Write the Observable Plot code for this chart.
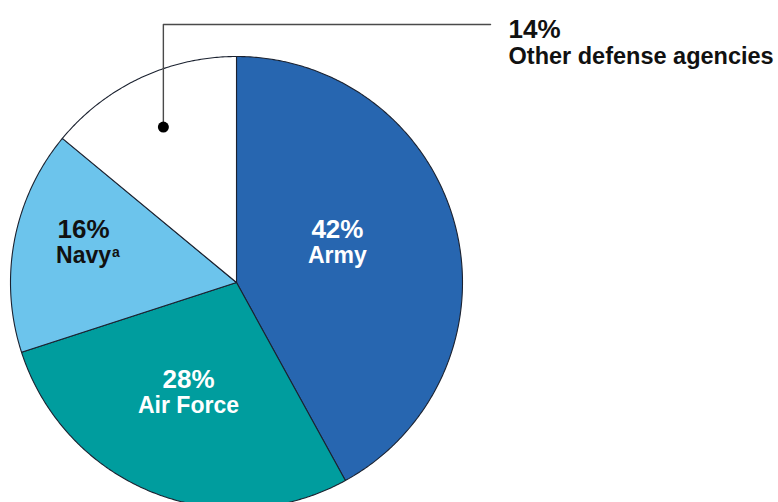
<!DOCTYPE html>
<html><head><meta charset="utf-8">
<script src="https://cdn.jsdelivr.net/npm/d3@7"></script>
<script src="https://cdn.jsdelivr.net/npm/@observablehq/plot@0.6"></script>
<style>html,body{margin:0;padding:0;background:#fff;overflow:hidden}</style>
</head><body><div id="chart"></div>
<script>
// ---- data ----
const categories = ["Army", "Air Force", "Navy", "Other defense agencies"];
const shares = [42, 28, 16, 14];
const pctLabels = ["42%", "28%", "16%", "14%"];
const nameLabels = ["Army", "Air Force", "Navy", "Other defense agencies"];
const footnoteMarks = ["", "", "a", ""];
const sliceColors = ["#2766B0", "#009D9E", "#6CC4EC", "#FFFFFF"];

// ---- layout config (not data) ----
const labelRadius = [0.461, 0.577, 0.689];   // fraction of radius for inside labels
const labelLift = [14, 11, 11];              // px lift for inside labels
const labelInk = ["#ffffff", "#ffffff", "#111111"];
const leaderRadius = 0.76;
const leaderTopY = 1.1416;
const leaderEndX = 1.124;
const R = 226; // px per data unit

// ---- build slices from the data ----
const total = d3.sum(shares);
let cum = 0;
const slices = categories.map((cat, i) => {
  const a0 = 2 * Math.PI * cum / total;
  cum += shares[i];
  const a1 = 2 * Math.PI * cum / total;
  return {cat, i, a0, a1, mid: (a0 + a1) / 2};
});
const polyPts = [];
for (const s of slices) {
  polyPts.push({cat: s.cat, x: 0, y: 0});
  const n = Math.max(2, Math.ceil((s.a1 - s.a0) / (Math.PI / 360)));
  for (let k = 0; k <= n; k++) {
    const a = s.a0 + (s.a1 - s.a0) * k / n;
    polyPts.push({cat: s.cat, x: Math.sin(a), y: Math.cos(a)});
  }
  polyPts.push({cat: s.cat, x: 0, y: 0});
}

const inside = slices.slice(0, 3).map(s => {
  const r = labelRadius[s.i];
  return {
    x: r * Math.sin(s.mid),
    y: r * Math.cos(s.mid) + labelLift[s.i] / R,
    pct: pctLabels[s.i], name: nameLabels[s.i], fn: footnoteMarks[s.i], ink: labelInk[s.i]
  };
});

const other = slices[3];
const dotPt = {x: leaderRadius * Math.sin(other.mid), y: leaderRadius * Math.cos(other.mid)};
const leader = [
  dotPt,
  {x: dotPt.x, y: leaderTopY},
  {x: leaderEndX, y: leaderTopY}
];
const outsideLabel = [{x: leaderEndX, y: leaderTopY, pct: pctLabels[3], name: nameLabels[3]}];

const font = "Liberation Sans, Arial, Helvetica, sans-serif";

const chart = Plot.plot({
  width: 778,
  height: 502,
  margin: 0,
  style: {fontFamily: font, background: "white"},
  x: {domain: [-1, 1], range: [10, 462], axis: null},
  y: {domain: [-1, 1], range: [508, 56], axis: null},
  color: {domain: categories, range: sliceColors},
  marks: [
    Plot.line(polyPts, {x: "x", y: "y", z: "cat", fill: "cat", stroke: "#1b2230", strokeWidth: 1.1, strokeLinejoin: "round"}),
    Plot.line(leader, {x: "x", y: "y", stroke: "#4a4a4a", strokeWidth: 1.4}),
    Plot.dot([dotPt], {x: "x", y: "y", r: 5.5, fill: "#000", stroke: "none"}),
    Plot.text(inside, {x: "x", y: "y", text: "pct", fill: d => d.ink, fontSize: 26, fontWeight: "bold", dy: -13}),
    Plot.text(inside, {x: "x", y: "y", text: "name", fill: d => d.ink, fontSize: 23, fontWeight: "bold", dy: 13}),
    Plot.text(inside.filter(d => d.fn), {x: "x", y: "y", text: "fn", fill: d => d.ink, fontSize: 14, fontWeight: "bold", dx: 28.5, dy: 10.5, textAnchor: "start"}),
    Plot.text(outsideLabel, {x: "x", y: "y", text: "pct", fill: "#111", fontSize: 26, fontWeight: "bold", dx: 18, dy: 4.7, textAnchor: "start"}),
    Plot.text(outsideLabel, {x: "x", y: "y", text: "name", fill: "#111", fontSize: 23.5, fontWeight: "bold", dx: 18, dy: 31.5, textAnchor: "start"})
  ]
});
document.getElementById("chart").appendChild(chart);
</script>
</body></html>
